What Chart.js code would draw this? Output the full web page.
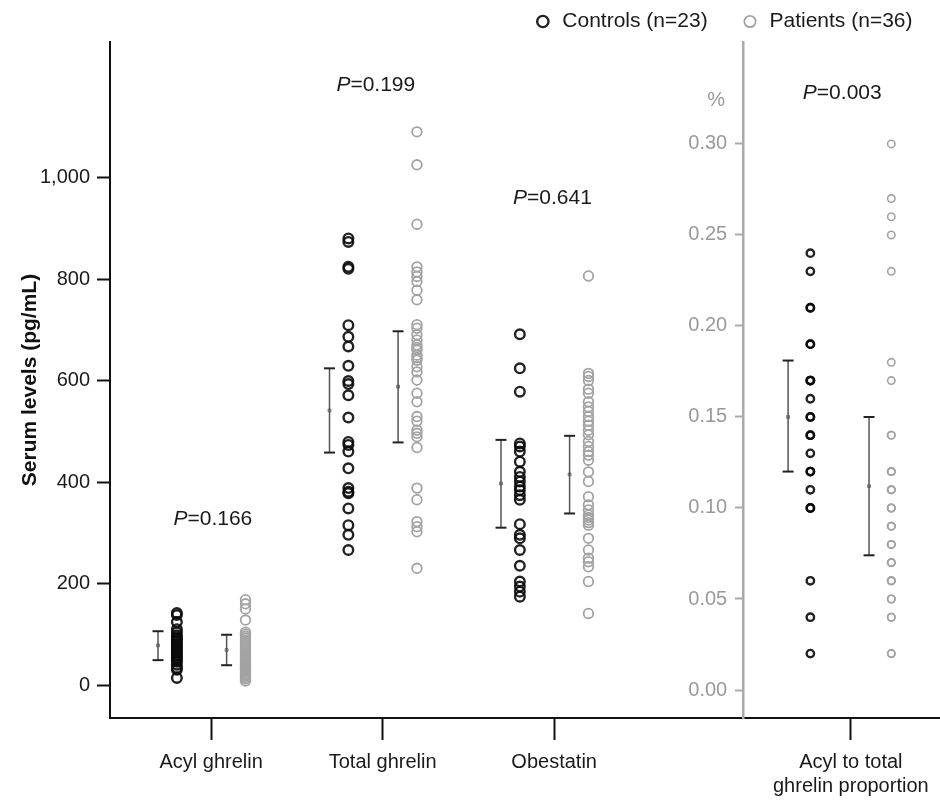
<!DOCTYPE html>
<html>
<head>
<meta charset="utf-8">
<script src="https://cdn.jsdelivr.net/npm/chart.js@4.4.1/dist/chart.umd.min.js"></script>
<style>
  html, body { margin: 0; padding: 0; background: #fff; }
  #wrap { width: 940px; height: 801px; position: relative; }
</style>
</head>
<body>
<div id="wrap"><canvas id="chart"></canvas></div>
<script>
// Catégories (positions sur un axe x linéaire)
const categories = ['Acyl ghrelin', 'Total ghrelin', 'Obestatin', ['Acyl to total', 'ghrelin proportion']];
const catPos = [1, 2, 3, 4.73];
const catSpread = [1, 1, 1, 1.18];

// Valeurs individuelles (pg/mL)
const acylCtrl = [142, 138, 124, 110, 104, 98, 94, 90, 86, 82, 78, 74, 70, 66, 62, 58, 54, 50, 46, 40, 34, 30, 14];
const acylPat = [168, 160, 150, 128, 104, 100, 96, 92, 88, 84, 80, 76, 72, 68, 64, 60, 58, 55, 52, 50, 48, 45, 42, 40, 38, 35, 32, 30, 28, 25, 22, 20, 18, 15, 12, 8];
const totalCtrl = [880, 873, 824, 820, 709, 686, 667, 629, 599, 593, 571, 527, 479, 473, 460, 427, 388, 381, 378, 348, 315, 296, 266];
const totalPat = [1090, 1025, 908, 824, 814, 805, 795, 778, 759, 710, 703, 690, 680, 670, 665, 660, 650, 645, 640, 627, 617, 601, 575, 558, 529, 520, 502, 496, 489, 468, 388, 365, 322, 312, 302, 230];
const obCtrl = [691, 624, 578, 476, 470, 460, 440, 420, 410, 401, 391, 384, 374, 365, 317, 296, 289, 266, 235, 204, 194, 184, 174];
const obPat = [806, 614, 608, 600, 583, 575, 558, 548, 539, 529, 520, 512, 502, 493, 480, 470, 460, 453, 443, 420, 401, 371, 355, 345, 335, 330, 325, 320, 315, 289, 266, 250, 243, 233, 204, 141];
// Proportion acyl / total (axe de droite)
const propCtrl = [0.24, 0.23, 0.21, 0.21, 0.19, 0.19, 0.17, 0.17, 0.17, 0.16, 0.15, 0.15, 0.14, 0.14, 0.13, 0.12, 0.12, 0.11, 0.10, 0.10, 0.06, 0.04, 0.02];
const propPat = [0.30, 0.27, 0.26, 0.25, 0.23, 0.18, 0.17, 0.14, 0.14, 0.12, 0.12, 0.12, 0.11, 0.11, 0.11, 0.10, 0.10, 0.10, 0.09, 0.09, 0.09, 0.08, 0.08, 0.08, 0.07, 0.07, 0.07, 0.06, 0.06, 0.06, 0.05, 0.05, 0.04, 0.04, 0.02, 0.02];

// Moyennes et IC 95 % (acyl, total, obestatin, proportion)
const meanCtrl = [78, 541, 397, 0.150];
const loCtrl = [49, 458, 310, 0.120];
const hiCtrl = [106, 624, 483, 0.181];
const meanPat = [69, 588, 415, 0.112];
const loPat = [39, 478, 338, 0.074];
const hiPat = [99, 697, 491, 0.150];

// Ticks
const leftTicks = [0, 200, 400, 600, 800, 1000];
const rightTicks = [0, 0.05, 0.10, 0.15, 0.20, 0.25, 0.30];

// P-values (position en données)
const pValues = ['0.166', '0.199', '0.641', '0.003'];
const pX = [1.01, 1.96, 2.99, 4.68];
const pY = [327, 1182, 960, 0.328];

const FONT = '"Liberation Sans", Arial, sans-serif';
const CTRL_COLOR = 'rgba(10,10,10,0.9)';
const PAT_COLOR = '#a3a3a3';

// décalages dans chaque groupe
const offErrCtrl = -0.31, offPtsCtrl = -0.2, offErrPat = 0.09, offPtsPat = 0.2;

function column(values, g, off) {
    return values.map(v => ({ x: catPos[g] + off * catSpread[g], y: v }));
}

function errorBars(groups, lo, hi, off) {
    const out = [];
    groups.forEach(g => {
        const x = catPos[g] + off * catSpread[g];
        out.push({ x, y: lo[g] }, { x, y: hi[g] }, { x, y: null });
    });
    return out;
}

function means(groups, m, off) {
    return groups.map(g => ({ x: catPos[g] + off * catSpread[g], y: m[g] }));
}

const ctrlLeft = [].concat(column(acylCtrl, 0, offPtsCtrl), column(totalCtrl, 1, offPtsCtrl), column(obCtrl, 2, offPtsCtrl));
const patLeft = [].concat(column(acylPat, 0, offPtsPat), column(totalPat, 1, offPtsPat), column(obPat, 2, offPtsPat));

const leftGroups = [0, 1, 2];
const rightGroups = [3];

const pointBase = { type: 'scatter', pointStyle: 'circle', backgroundColor: 'rgba(0,0,0,0)', pointBackgroundColor: 'rgba(0,0,0,0)' };
const barBase = {
    type: 'scatter', showLine: true, spanGaps: false, borderColor: '#555', borderWidth: 1.5,
    pointStyle: 'line', pointRadius: 5.5, pointBorderColor: '#222', pointBorderWidth: 2, pointHoverRadius: 5.5
};
const meanBase = { type: 'scatter', pointStyle: 'rect', pointRadius: 2, pointBorderColor: '#777', pointBorderWidth: 1, pointBackgroundColor: '#bbb' };

const datasets = [
    { ...pointBase, label: 'Controls (n=23)', data: ctrlLeft, yAxisID: 'y', borderColor: CTRL_COLOR, pointBorderColor: CTRL_COLOR, borderWidth: 2.4, pointRadius: 4.8 },
    { ...pointBase, label: 'Patients (n=36)', data: patLeft, yAxisID: 'y', borderColor: PAT_COLOR, pointBorderColor: PAT_COLOR, borderWidth: 1.8, pointRadius: 4.8 },
    { ...pointBase, label: 'ctrl-prop', data: column(propCtrl, 3, offPtsCtrl), yAxisID: 'y2', borderColor: CTRL_COLOR, pointBorderColor: CTRL_COLOR, borderWidth: 2.4, pointRadius: 3.7 },
    { ...pointBase, label: 'pat-prop', data: column(propPat, 3, offPtsPat), yAxisID: 'y2', borderColor: PAT_COLOR, pointBorderColor: PAT_COLOR, borderWidth: 1.6, pointRadius: 3.7 },
    { ...barBase, label: 'bars-left', yAxisID: 'y', data: errorBars(leftGroups, loCtrl, hiCtrl, offErrCtrl).concat(errorBars(leftGroups, loPat, hiPat, offErrPat)) },
    { ...barBase, label: 'bars-right', yAxisID: 'y2', data: errorBars(rightGroups, loCtrl, hiCtrl, offErrCtrl).concat(errorBars(rightGroups, loPat, hiPat, offErrPat)) },
    { ...meanBase, label: 'means-left', yAxisID: 'y', data: means(leftGroups, meanCtrl, offErrCtrl).concat(means(leftGroups, meanPat, offErrPat)) },
    { ...meanBase, label: 'means-right', yAxisID: 'y2', data: means(rightGroups, meanCtrl, offErrCtrl).concat(means(rightGroups, meanPat, offErrPat)) }
];

// P-values et le signe %
const annotate = {
    id: 'annotate',
    afterDraw(chart) {
        const { ctx, scales } = chart;
        ctx.save();
        ctx.textBaseline = 'middle';
        ctx.textAlign = 'left';
        ctx.fillStyle = '#1a1a1a';
        pValues.forEach((p, i) => {
            const yScale = i === 3 ? scales.y2 : scales.y;
            const cx = scales.x.getPixelForValue(pX[i]);
            const cy = yScale.getPixelForValue(pY[i]);
            ctx.font = 'italic 21px ' + FONT;
            const wP = ctx.measureText('P').width;
            ctx.font = '21px ' + FONT;
            const rest = '=' + p;
            const wR = ctx.measureText(rest).width;
            const x0 = cx - (wP + wR) / 2;
            ctx.font = 'italic 21px ' + FONT;
            ctx.fillText('P', x0, cy);
            ctx.font = '21px ' + FONT;
            ctx.fillText(rest, x0 + wP, cy);
        });
        ctx.font = '20px ' + FONT;
        ctx.fillStyle = '#999';
        ctx.textAlign = 'center';
        ctx.fillText('%', scales.x.getPixelForValue(3.945), scales.y2.getPixelForValue(0.324));
        ctx.restore();
    }
};

new Chart(document.getElementById('chart'), {
    type: 'scatter',
    data: { datasets },
    options: {
        responsive: true,
        maintainAspectRatio: false,
        animation: false,
        layout: { autoPadding: false, padding: { top: 1, left: 0, right: 0, bottom: 0 } },
        plugins: {
            tooltip: { enabled: false },
            legend: {
                position: 'top',
                align: 'end',
                labels: {
                    usePointStyle: true,
                    boxWidth: 18,
                    boxHeight: 8,
                    padding: 10,
                    color: '#1a1a1a',
                    font: { family: FONT, size: 21 },
                    filter: item => item.datasetIndex < 2,
                    generateLabels: chart => {
                        const items = Chart.defaults.plugins.legend.labels.generateLabels(chart);
                        items.forEach(it => {
                            if (it.datasetIndex === 0) it.text = it.text + '    ';
                            if (it.datasetIndex === 1) it.text = it.text + '   ';
                        });
                        return items;
                    }
                }
            }
        },
        scales: {
            x: {
                type: 'linear',
                min: 0.41,
                max: 5.25,
                afterBuildTicks: s => { s.ticks = catPos.map(v => ({ value: v })); },
                afterFit: s => { s.height = 83; s.paddingLeft = 0; s.paddingRight = 0; },
                ticks: {
                    autoSkip: false, maxRotation: 0, minRotation: 0, padding: 10,
                    color: '#1a1a1a', font: { family: FONT, size: 20 },
                    callback: (v, i) => categories[i]
                },
                grid: { drawOnChartArea: false, tickLength: 22, tickWidth: 2, tickColor: '#111' },
                border: { color: '#111', width: 2 }
            },
            y: {
                type: 'linear',
                position: 'left',
                min: -65,
                max: 1267,
                afterBuildTicks: s => { s.ticks = leftTicks.map(v => ({ value: v })); },
                afterFit: s => { s.width = 110; },
                ticks: {
                    padding: 7, color: '#1a1a1a', font: { family: FONT, size: 20 },
                    callback: v => v.toLocaleString('en-US')
                },
                grid: { drawOnChartArea: false, tickLength: 13, tickWidth: 2, tickColor: '#111' },
                border: { color: '#111', width: 2 },
                title: {
                    display: true, text: 'Serum levels (pg/mL)', color: '#111',
                    font: { family: FONT, size: 21, weight: 'bold' },
                    padding: { top: 18, bottom: 0 }
                }
            },
            y2: {
                type: 'linear',
                axis: 'y',
                position: { x: 4.10 },
                min: -0.01538,
                max: 0.356,
                afterBuildTicks: s => { s.ticks = rightTicks.map(v => ({ value: v })); },
                ticks: {
                    padding: 8, color: '#999', font: { family: FONT, size: 20 },
                    // l'axe centré aligne le texte sur la ligne : espaces pour le décaler
                    callback: v => v.toFixed(2) + '\u2002 '
                },
                grid: { drawOnChartArea: false, tickLength: 7, tickWidth: 2, tickColor: '#aaa' },
                border: { color: '#aaa', width: 2.5 }
            }
        }
    },
    plugins: [annotate]
});
</script>
</body>
</html>
